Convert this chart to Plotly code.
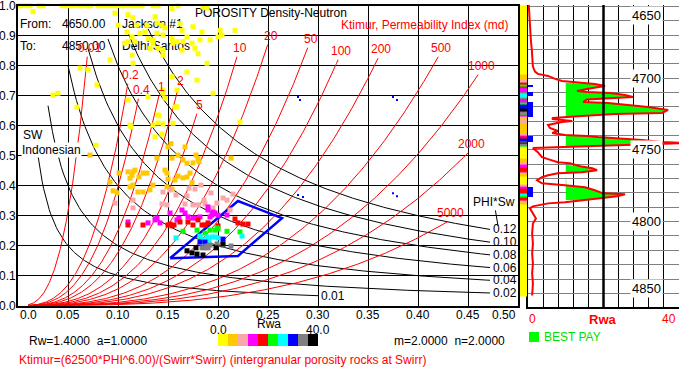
import numpy as np
import plotly.graph_objects as go

W, H = 680, 368
FONT = "Liberation Sans, Arial, Helvetica, sans-serif"

# ---------------- main cross-plot (porosity vs Sw) ----------------
x_tick_vals = [0.0, 0.05, 0.10, 0.15, 0.20, 0.25, 0.30, 0.35, 0.40, 0.45, 0.50]
x_tick_text = ["0.0", "0.05", "0.10", "0.15", "0.20", "0.25", "0.30", "0.35", "0.40", "0.45", "0.50"]
y_tick_vals = [0.0, 0.1, 0.2, 0.3, 0.4, 0.5, 0.6, 0.7, 0.8, 0.9, 1.0]
y_tick_text = ["0.0", "0.1", "0.2", "0.3", "0.4", "0.5", "0.6", "0.7", "0.8", "0.9", "1.0"]

# bulk volume water lines PHI*Sw
bvw_values = [0.01, 0.02, 0.04, 0.06, 0.08, 0.10, 0.12]
bvw_labels = ["0.01", "0.02", "0.04", "0.06", "0.08", "0.10", "0.12"]
bvw_phi_end = [0.30, 0.472, 0.472, 0.472, 0.472, 0.472, 0.472]

# Ktimur permeability lines (md)
perm_coef = 62500.0
perm_exp = 6.0
perm_values = [0.01, 0.2, 0.4, 1, 2, 5, 10, 20, 50, 100, 200, 500, 1000, 2000, 5000]
perm_labels = ["0.01", "0.2", "0.4", "1", "2", "5", "10", "20", "50", "100", "200", "500", "1000", "2000", "5000"]
perm_sw_end = [0.83, 0.74, 0.69, 0.70, 0.72, 0.64, 0.83, 0.87, 0.86, 0.82, 0.825, 0.83, 0.77, 0.51, 0.28]

# pay cut-off polygon (phi, sw)
cutoff_phi = [0.152, 0.220, 0.264, 0.220, 0.152]
cutoff_sw = [0.158, 0.166, 0.292, 0.349, 0.158]

# Rwa colour classes (0-40 in steps of 4)
rwa_colors = ["#ffff00", "#ffc800", "#f8a8a8", "#ff00ff", "#ff0000",
              "#00ff00", "#00ffff", "#0000ff", "#808080", "#000000"]

# data points (phi, Sw) per Rwa class
yellow_pts = [
    (0.0, 1.0), (0.004, 1.0), (0.008, 1.0), (0.012, 1.0), (0.021, 1.0), (0.025, 1.0),
    (0.044, 1.0), (0.048, 1.0), (0.052, 1.0), (0.056, 1.0), (0.061, 1.0), (0.065, 1.0),
    (0.069, 1.0), (0.073, 1.0), (0.080, 1.0), (0.084, 1.0), (0.088, 1.0), (0.092, 1.0),
    (0.096, 1.0), (0.100, 1.0), (0.104, 1.0), (0.108, 1.0), (0.112, 1.0), (0.116, 1.0),
    (0.120, 1.0), (0.124, 1.0), (0.135, 1.0), (0.140, 1.0), (0.160, 1.0),
    (0.015, 0.98), (0.097, 0.975), (0.110, 0.97), (0.100, 0.935), (0.115, 0.96),
    (0.119, 0.935), (0.109, 0.912), (0.122, 0.908), (0.129, 0.935), (0.114, 0.896),
    (0.117, 0.88), (0.110, 0.88), (0.107, 0.875), (0.127, 0.912), (0.130, 0.89),
    (0.135, 0.886), (0.137, 0.963), (0.139, 0.942), (0.144, 0.935), (0.147, 0.926),
    (0.139, 0.908), (0.145, 0.902), (0.135, 0.875), (0.132, 0.858), (0.140, 0.858),
    (0.145, 0.852), (0.145, 0.835), (0.154, 0.99), (0.154, 0.89), (0.155, 0.875),
    (0.159, 0.88), (0.162, 0.94), (0.164, 0.918), (0.165, 0.88), (0.164, 0.852),
    (0.169, 0.896), (0.174, 0.875), (0.175, 0.93), (0.177, 0.858), (0.180, 0.84),
    (0.182, 0.886), (0.184, 0.912), (0.185, 0.996), (0.189, 0.992), (0.189, 0.808),
    (0.192, 0.886), (0.195, 0.708), (0.202, 0.918), (0.204, 0.902), (0.200, 0.896),
    (0.217, 0.918), (0.222, 0.612), (0.169, 0.779), (0.179, 0.752), (0.154, 0.763),
    (0.159, 0.719), (0.145, 0.719), (0.147, 0.692), (0.157, 0.662), (0.140, 0.636),
    (0.135, 0.602), (0.140, 0.609), (0.110, 0.686), (0.130, 0.696), (0.112, 0.602),
    (0.092, 0.819), (0.115, 0.808), (0.114, 0.835), (0.062, 0.792), (0.070, 0.786),
    (0.079, 0.736), (0.059, 0.662), (0.035, 0.702), (0.040, 0.708), (0.145, 0.708),
    (0.159, 0.663), (0.141, 0.633), (0.155, 0.608), (0.113, 0.596), (0.137, 0.563),
    (0.144, 0.572), (0.078, 0.535), (0.145, 0.606),
]
gold_pts = [
    (0.072, 0.502), (0.150, 0.529), (0.153, 0.540), (0.167, 0.529), (0.160, 0.502),
    (0.154, 0.492), (0.165, 0.486), (0.169, 0.475), (0.175, 0.476), (0.180, 0.490),
    (0.181, 0.480), (0.178, 0.502), (0.213, 0.492), (0.139, 0.492), (0.172, 0.442),
    (0.165, 0.426), (0.160, 0.432), (0.169, 0.429), (0.147, 0.452), (0.149, 0.442),
    (0.150, 0.422), (0.157, 0.419), (0.174, 0.409), (0.110, 0.446), (0.115, 0.446),
    (0.117, 0.452), (0.125, 0.442), (0.129, 0.442), (0.114, 0.435), (0.112, 0.425),
    (0.121, 0.429), (0.101, 0.442), (0.092, 0.412), (0.095, 0.383), (0.099, 0.376),
    (0.112, 0.396), (0.115, 0.402), (0.120, 0.379), (0.125, 0.379), (0.132, 0.386),
    (0.135, 0.402), (0.149, 0.396), (0.154, 0.389),
]
pink_pts = [
    (0.097, 0.342), (0.115, 0.352), (0.115, 0.326), (0.145, 0.379), (0.152, 0.386),
    (0.158, 0.369), (0.144, 0.339), (0.149, 0.336), (0.169, 0.366), (0.171, 0.392),
    (0.177, 0.389), (0.183, 0.402), (0.193, 0.376), (0.186, 0.352), (0.175, 0.336),
    (0.180, 0.336), (0.187, 0.339), (0.199, 0.342), (0.205, 0.359), (0.209, 0.352),
    (0.215, 0.372), (0.195, 0.326), (0.167, 0.339), (0.212, 0.319),
]
magenta_pts = [
    (0.110, 0.279), (0.130, 0.276), (0.137, 0.286), (0.139, 0.292), (0.142, 0.276),
    (0.152, 0.309), (0.159, 0.286), (0.161, 0.292), (0.164, 0.319), (0.167, 0.309),
    (0.170, 0.296), (0.175, 0.292), (0.179, 0.292), (0.182, 0.296), (0.190, 0.329),
    (0.190, 0.319), (0.194, 0.302), (0.195, 0.312), (0.197, 0.309), (0.200, 0.302),
    (0.209, 0.302), (0.192, 0.296),
]
red_pts = [
    (0.110, 0.269), (0.125, 0.269), (0.150, 0.269), (0.154, 0.266), (0.156, 0.269),
    (0.162, 0.279), (0.170, 0.279), (0.175, 0.269), (0.180, 0.286), (0.184, 0.269),
    (0.187, 0.269), (0.190, 0.276), (0.200, 0.266), (0.217, 0.289), (0.220, 0.276),
    (0.225, 0.272), (0.230, 0.272), (0.152, 0.272),
]
green_pts = [
    (0.165, 0.248), (0.179, 0.252), (0.187, 0.242), (0.192, 0.252), (0.197, 0.252),
    (0.199, 0.259), (0.200, 0.256), (0.209, 0.248), (0.182, 0.229), (0.222, 0.246),
]
cyan_pts = [
    (0.158, 0.226), (0.182, 0.232), (0.185, 0.219), (0.189, 0.229), (0.190, 0.222),
    (0.194, 0.229), (0.197, 0.229), (0.191, 0.214), (0.224, 0.232), (0.200, 0.226),
]
blue_pts = [(0.182, 0.212), (0.187, 0.212), (0.205, 0.222)]
gray_pts = [
    (0.184, 0.193), (0.187, 0.193), (0.189, 0.199), (0.192, 0.202), (0.199, 0.206),
    (0.205, 0.202), (0.213, 0.199), (0.190, 0.193),
]
black_pts = [
    (0.169, 0.183), (0.174, 0.176), (0.179, 0.172), (0.185, 0.169), (0.178, 0.193),
    (0.198, 0.193), (0.205, 0.206),
]
class_points = [yellow_pts, gold_pts, pink_pts, magenta_pts, red_pts,
                green_pts, cyan_pts, blue_pts, gray_pts, black_pts]
# tiny blue specks
speck_pts = [(0.280, 0.369), (0.285, 0.362), (0.375, 0.375), (0.379, 0.365),
             (0.280, 0.696), (0.282, 0.686), (0.375, 0.696), (0.379, 0.686)]

# ---------------- depth track ----------------
depth = [
    4649, 4655, 4660, 4665, 4670, 4675, 4680, 4685, 4692, 4695.5,
    4697.1, 4698.5, 4700.6, 4702.0, 4702.7, 4704.1, 4705.5, 4706.2, 4707.6, 4709.0,
    4709.7, 4710.4, 4711.8, 4713.2, 4713.9, 4714.9, 4716.7, 4717.4, 4720.1, 4722.2,
    4724.3, 4725.0, 4726.4, 4727.1, 4727.8, 4728.5, 4729.9, 4730.6, 4732.7, 4734.8,
    4736.9, 4738.3, 4739.7, 4740.4, 4741.1, 4743.2, 4744.6, 4745.3, 4746.0, 4747.4,
    4748.1, 4748.5, 4748.8, 4751.6, 4755.1, 4756.5, 4758.6, 4759.3, 4761.4, 4762.8,
    4764.2, 4765.6, 4766.3, 4767.7, 4769.1, 4771.2, 4773.3, 4774.7, 4776.1, 4778.2,
    4780.3, 4781.0, 4782.4, 4783.8, 4786.6, 4787.3, 4789.4, 4790.8, 4794.3, 4797.8,
    4801.3, 4808.2, 4815.2, 4822.2, 4829.2, 4836.1, 4843.1, 4850.1, 4851.5,
]
rwa = [
    0.2, 0.3, 0.4, 0.5, 0.6, 0.8, 1.0, 1.1, 1.3, 1.85,
    2.6, 5.3, 7.2, 9.0, 11.9, 17.7, 20.4, 18.3, 15.6, 13.0,
    15.6, 21.7, 25.7, 27.8, 23.0, 15.6, 14.6, 21.2, 31.8, 37.1,
    35.5, 23.0, 14.3, 9.8, 6.6, 6.4, 11.7, 9.0, 5.3, 5.8,
    7.9, 6.4, 9.8, 15.6, 18.5, 30.2, 35.5, 42.0, 33.6, 20.4,
    9.8, 2.6, 1.3, 2.6, 3.7, 5.3, 7.9, 11.1, 13.8, 17.0,
    18.3, 14.3, 7.9, 5.3, 3.7, 2.4, 3.7, 9.8, 15.1, 17.7,
    19.9, 25.7, 23.6, 19.1, 9.8, 5.3, 1.3, 0.5, 1.3, 2.1,
    1.3, 1.1, 1.3, 1.1, 1.3, 1.1, 1.3, 1.1, 1.1,
]
pay_cutoff_rwa = 10.0
pay_intervals = [(4703.4, 4727.1), (4739.7, 4748.8), (4760.6, 4785.0)]
flag_intervals = [(4704.8, 4706.2), (4709.7, 4712.5), (4716.7, 4727.1),
                  (4740.4, 4744.6), (4776.1, 4783.1)]
flag_rwa = 1.3
depth_labels = [4650, 4700, 4750, 4800, 4850]
depth_top, depth_bottom = 4649.1, 4859.5

# ---------------- helpers ----------------
def px(X):
    return X / W

def py(Y):
    return 1 - Y / H

def discrete_scale(colors):
    n = len(colors)
    sc = []
    for i, c in enumerate(colors):
        sc.append([i / n, c])
        sc.append([(i + 1) / n, c])
    return sc

fig = go.Figure()

# ---- header texts drawn under the points ----
fig.add_trace(go.Scatter(
    x=[0.002, 0.044, 0.104, 0.002, 0.044, 0.104, 0.177],
    y=[0.935, 0.935, 0.935, 0.862, 0.862, 0.862, 0.972],
    text=["From:", "4650.00", "Jackson #1", "To:", "4850.00", "Delhi Santos",
          "POROSITY Density-Neutron"],
    mode="text", textposition="middle right", marker=dict(size=1),
    textfont=dict(family=FONT, size=12, color="black"),
    cliponaxis=False, hoverinfo="skip", xaxis="x", yaxis="y"))

# ---- BVW curves ----
for c, pe in zip(bvw_values, bvw_phi_end):
    phi = np.linspace(c + 0.01, pe, 200)
    fig.add_trace(go.Scatter(x=phi, y=c / phi, mode="lines",
                             line=dict(color="black", width=1),
                             hoverinfo="skip", xaxis="x", yaxis="y"))

# ---- permeability curves ----
for k, se in zip(perm_values, perm_sw_end):
    pe = (k * se ** 2 / perm_coef) ** (1 / perm_exp)
    phi = np.linspace(0.01, pe, 200)
    sw = np.sqrt(perm_coef * phi ** perm_exp / k)
    fig.add_trace(go.Scatter(x=phi, y=sw, mode="lines",
                             line=dict(color="#ff0000", width=1),
                             hoverinfo="skip", xaxis="x", yaxis="y"))

# ---- cutoff polygon ----
fig.add_trace(go.Scatter(x=cutoff_phi, y=cutoff_sw, mode="lines",
                         line=dict(color="#0000ff", width=2.5),
                         hoverinfo="skip", xaxis="x", yaxis="y"))

# ---- points ----
for pts, col in zip(class_points, rwa_colors):
    fig.add_trace(go.Scatter(
        x=[p[0] for p in pts], y=[p[1] for p in pts], mode="markers",
        marker=dict(symbol="square", size=5, color=col, line=dict(width=0)),
        cliponaxis=False, hoverinfo="skip", xaxis="x", yaxis="y"))
fig.add_trace(go.Scatter(
    x=[p[0] for p in speck_pts], y=[p[1] for p in speck_pts], mode="markers",
    marker=dict(symbol="square", size=2, color="#0000ff", line=dict(width=0)),
    hoverinfo="skip", xaxis="x", yaxis="y"))

# ---- depth track ----
# colour strip
fig.add_trace(go.Heatmap(
    x=[0], y=depth, z=[[v] for v in rwa], zmin=0, zmax=40,
    colorscale=discrete_scale(rwa_colors), showscale=False,
    hoverinfo="skip", xaxis="x3", yaxis="y3"))

# best pay fill
for top, base in pay_intervals:
    d = np.linspace(top, base, 300)
    r = np.clip(np.interp(d, depth, rwa), pay_cutoff_rwa, 40)
    fig.add_trace(go.Scatter(
        x=np.concatenate([[pay_cutoff_rwa], r, [pay_cutoff_rwa]]),
        y=np.concatenate([[top], d, [base]]),
        mode="lines", fill="toself", fillcolor="#00ff00",
        line=dict(width=0, color="#00ff00"),
        hoverinfo="skip", xaxis="x2", yaxis="y2"))

# flags
fig.add_trace(go.Bar(
    x=[flag_rwa] * len(flag_intervals),
    y=[(a + b) / 2 for a, b in flag_intervals],
    width=[b - a for a, b in flag_intervals],
    base=0, orientation="h", marker=dict(color="#0000ff", line=dict(width=0)),
    hoverinfo="skip", xaxis="x2", yaxis="y2"))

# Rwa curve
fig.add_trace(go.Scatter(x=rwa, y=depth, mode="lines",
                         line=dict(color="#ff0000", width=2),
                         hoverinfo="skip", xaxis="x2", yaxis="y2"))

# ---- legend colour bar ----
fig.add_trace(go.Heatmap(
    x=list(range(len(rwa_colors))), y=[0],
    z=[[4 * i + 2 for i in range(len(rwa_colors))]], zmin=0, zmax=40,
    colorscale=discrete_scale(rwa_colors), showscale=False,
    hoverinfo="skip", xaxis="x4", yaxis="y4"))

# ---------------- annotations ----------------
ann = []
f12 = dict(family=FONT, size=12, color="black")
red12 = dict(family=FONT, size=12, color="#ff0000")

for i, (v, t) in enumerate(zip(x_tick_vals, x_tick_text)):
    anchor = "left" if i == 0 else ("right" if i == len(x_tick_vals) - 1 else "center")
    ann.append(dict(x=v, y=0, xref="x", yref="y", text=t, showarrow=False,
                    xanchor=anchor, yanchor="top", yshift=0, font=f12))
for v, t in zip(y_tick_vals, y_tick_text):
    ann.append(dict(x=0, y=v, xref="x", yref="y", text=t, showarrow=False,
                    xanchor="right", yanchor="middle", xshift=0, font=f12))

for c, pe, t in zip(bvw_values, bvw_phi_end, bvw_labels):
    ann.append(dict(x=pe, y=c / pe, xref="x", yref="y", text=t, showarrow=False,
                    xanchor="left", yanchor="middle", xshift=1, font=f12))

for k, se, t in zip(perm_values, perm_sw_end, perm_labels):
    pe = (k * se ** 2 / perm_coef) ** (1 / perm_exp)
    ann.append(dict(x=pe, y=se, xref="x", yref="y", text=t, showarrow=False,
                    xanchor="center", yanchor="bottom", xshift=3, yshift=0, font=red12))

ann.append(dict(x=px(339), y=py(25), xref="paper", yref="paper",
                text="Ktimur, Permeability Index (md)", showarrow=False,
                xanchor="left", yanchor="middle", font=red12))
ann.append(dict(x=px(21), y=py(135), xref="paper", yref="paper", text="SW",
                showarrow=False, xanchor="left", yanchor="middle", font=f12))
ann.append(dict(x=px(21), y=py(150), xref="paper", yref="paper", text="Indonesian",
                showarrow=False, xanchor="left", yanchor="middle", font=f12,
                bgcolor="white", borderpad=0))
ann.append(dict(x=0.48, y=0.266, xref="x", yref="y", text="PHI*Sw",
                showarrow=True, arrowhead=0, arrowwidth=1, arrowcolor="black",
                ax=-4, ay=-24, font=f12))

# bottom texts
ann.append(dict(x=px(269), y=py(324), xref="paper", yref="paper", text="Rwa",
                showarrow=False, xanchor="center", yanchor="middle", font=f12))
ann.append(dict(x=px(218), y=py(330), xref="paper", yref="paper", text="0.0",
                showarrow=False, xanchor="center", yanchor="middle", font=f12))
ann.append(dict(x=px(318), y=py(330), xref="paper", yref="paper", text="40.0",
                showarrow=False, xanchor="center", yanchor="middle", font=f12))
ann.append(dict(x=px(27), y=py(341), xref="paper", yref="paper",
                text="Rw=1.4000  a=1.0000", showarrow=False,
                xanchor="left", yanchor="middle", font=f12))
ann.append(dict(x=px(392), y=py(341), xref="paper", yref="paper",
                text="m=2.0000  n=2.0000", showarrow=False,
                xanchor="left", yanchor="middle", font=f12))
ann.append(dict(x=px(17), y=py(360), xref="paper", yref="paper",
                text="Ktimur=(62500*PHI^6.00)/(Swirr*Swirr) (intergranular porosity rocks at Swirr)",
                showarrow=False, xanchor="left", yanchor="middle", font=red12))

# track labels
for i, d in enumerate(depth_labels):
    shift = -9 if i == 0 else (5 if i == len(depth_labels) - 1 else 0)
    ann.append(dict(x=31.5, y=d, xref="x2", yref="y2", text=str(d), showarrow=False,
                    xanchor="center", yanchor="middle", yshift=shift,
                    bgcolor="white", borderpad=1, font=dict(family=FONT, size=13, color="black")))
ann.append(dict(x=px(532), y=py(319), xref="paper", yref="paper", text="0",
                showarrow=False, xanchor="center", yanchor="middle", font=red12))
ann.append(dict(x=px(603), y=py(319), xref="paper", yref="paper", text="<b>Rwa</b>",
                showarrow=False, xanchor="center", yanchor="middle",
                font=dict(family=FONT, size=13, color="#ff0000")))
ann.append(dict(x=px(669), y=py(319), xref="paper", yref="paper", text="40",
                showarrow=False, xanchor="center", yanchor="middle", font=red12))
ann.append(dict(x=px(542), y=py(337), xref="paper", yref="paper", text="BEST PAY",
                showarrow=False, xanchor="left", yanchor="middle",
                font=dict(family=FONT, size=12, color="#00e000")))

shapes = [
    dict(type="line", xref="x2", yref="y2 domain", x0=20, x1=20, y0=0, y1=1,
         line=dict(color="black", width=2.5)),
    dict(type="rect", xref="paper", yref="paper", x0=px(529), x1=px(539),
         y0=py(342), y1=py(332), fillcolor="#00ff00", line=dict(width=0)),
]

axis_common = dict(showticklabels=False, ticks="", zeroline=False)
fig.update_layout(
    width=W, height=H, margin=dict(l=0, r=0, t=0, b=0),
    paper_bgcolor="white", plot_bgcolor="white", showlegend=False,
    font=dict(family=FONT, size=12, color="black"),
    xaxis=dict(domain=[px(18), px(518)], range=[0, 0.5], dtick=0.05, tick0=0,
               showgrid=True, gridcolor="black", gridwidth=1,
               showline=True, linecolor="black", linewidth=2, mirror=True,
               **axis_common),
    yaxis=dict(domain=[py(305.7), py(5.7)], range=[0, 1], dtick=0.1, tick0=0,
               showgrid=True, gridcolor="black", gridwidth=1,
               showline=True, linecolor="black", linewidth=2, mirror=True,
               **axis_common),
    xaxis2=dict(domain=[px(528), px(679)], range=[0, 40], dtick=4, tick0=0,
                showgrid=True, gridcolor="black", gridwidth=1,
                showline=True, linecolor="black", linewidth=2,
                anchor="y2", **axis_common),
    yaxis2=dict(domain=[py(307), py(5)], range=[depth_bottom, depth_top],
                dtick=10, tick0=4650, showgrid=True, gridcolor="#808080", gridwidth=1,
                showline=True, linecolor="black", linewidth=2,
                anchor="x2", **axis_common),
    xaxis3=dict(domain=[px(520), px(527)], range=[-0.5, 0.5], showgrid=False,
                showline=False, anchor="y3", **axis_common),
    yaxis3=dict(domain=[py(307), py(5)], range=[depth_bottom, depth_top],
                showgrid=False, showline=True, linecolor="black", linewidth=1,
                anchor="x3", **axis_common),
    xaxis4=dict(domain=[px(218), px(318)], range=[-0.5, 9.5], showgrid=False,
                showline=False, anchor="y4", **axis_common),
    yaxis4=dict(domain=[py(346), py(334)], range=[-0.5, 0.5], showgrid=False,
                showline=False, anchor="x4", **axis_common),
    annotations=ann, shapes=shapes, bargap=0,
)

fig.write_html("out.html", config={"displayModeBar": False},
               post_script="document.body.style.margin='0';document.body.style.overflow='hidden';")
